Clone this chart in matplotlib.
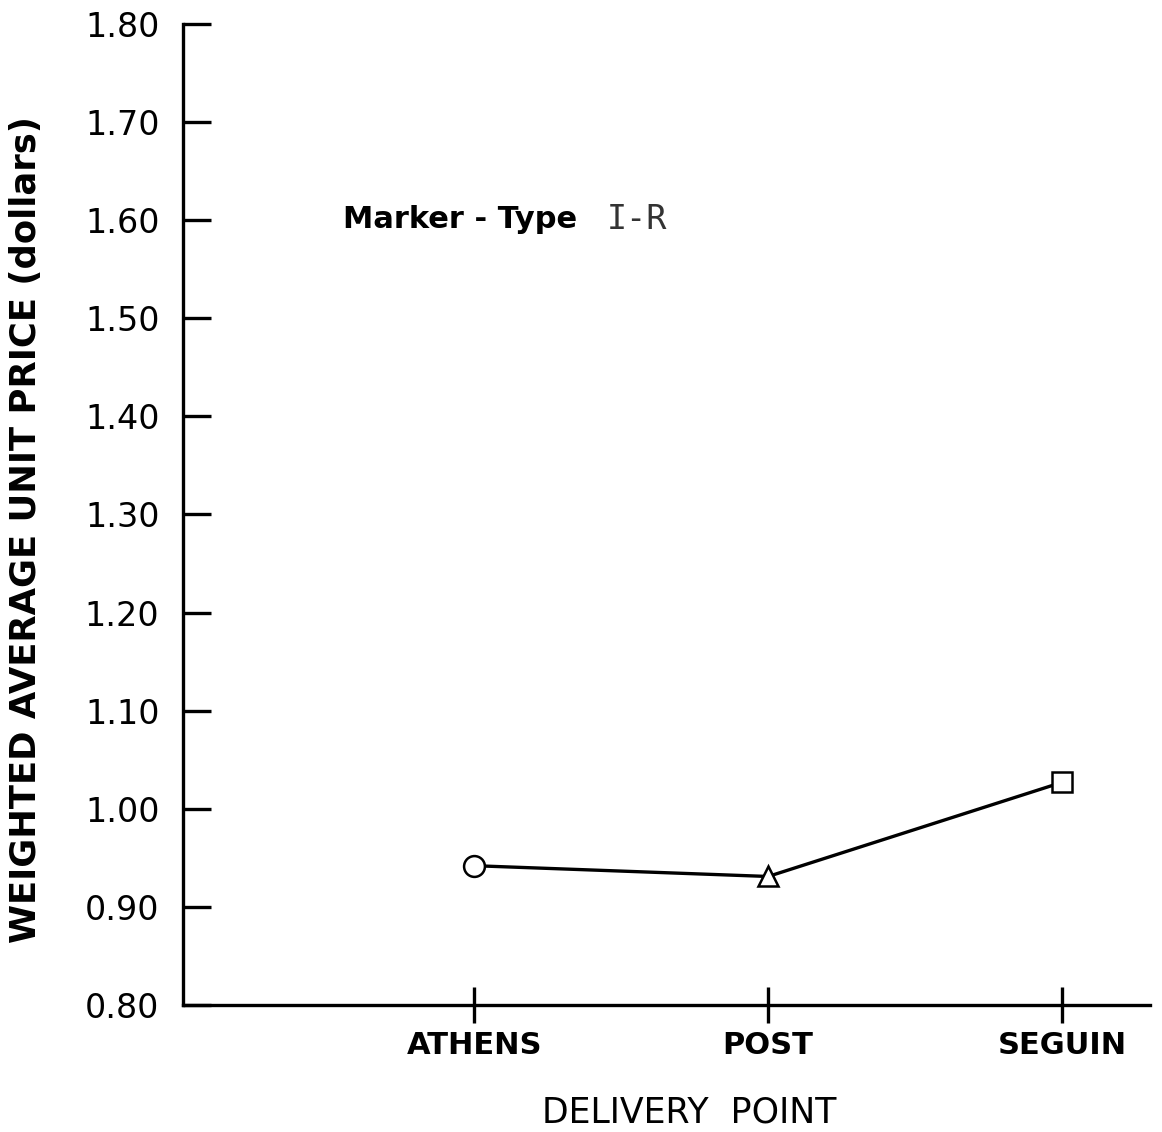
import matplotlib
matplotlib.use("Agg")
import matplotlib.pyplot as plt
import numpy as np

# delivery points and weighted average unit price (dollars)
points = ["ATHENS", "POST", "SEGUIN"]
prices = [0.942, 0.931, 1.027]
markers = ["o", "^", "s"]
yticks = [0.80, 0.90, 1.00, 1.10, 1.20, 1.30, 1.40, 1.50, 1.60, 1.70, 1.80]

fig = plt.figure(figsize=(11.62, 11.32), dpi=100)
ax = fig.add_axes([0.1575, 0.1122, 0.8325, 0.8666])

x = np.arange(1, len(points) + 1)
ax.plot(x, prices, color="black", lw=2.4, zorder=2)
for xi, yi, m in zip(x, prices, markers):
    ax.plot(xi, yi, marker=m, ms=15, mfc="white", mec="black", mew=1.8,
            ls="none", zorder=3)

ax.set_xlim(0.01, 3.30)
ax.set_ylim(0.80, 1.80)

ax.spines["top"].set_visible(False)
ax.spines["right"].set_visible(False)
ax.spines["left"].set_linewidth(2.4)
ax.spines["bottom"].set_linewidth(2.4)

ax.set_yticks(yticks)
ax.set_yticklabels([f"{v:.2f}" for v in yticks])
ax.tick_params(axis="y", direction="in", length=20, width=2.4,
               labelsize=24, pad=17)
ax.set_xticks(x)
ax.set_xticklabels(points, fontweight="bold")
ax.tick_params(axis="x", direction="inout", length=26, width=2.4,
               labelsize=22, pad=6)

ax.set_ylabel("WEIGHTED AVERAGE UNIT PRICE (dollars)", fontsize=25.5,
              fontweight="bold")
ax.yaxis.set_label_coords(-0.145, 0.485)
ax.set_xlabel("DELIVERY  POINT", fontsize=25)
ax.xaxis.set_label_coords(0.523, -0.092)

ax.text(0.165, 0.801, "Marker - Type", transform=ax.transAxes,
        fontsize=22, fontweight="bold", va="center")
ax.text(0.438, 0.801, "I-R", transform=ax.transAxes,
        fontsize=24, family="DejaVu Sans Mono", color="#333333", va="center")

fig.savefig("out.png", dpi=100)
